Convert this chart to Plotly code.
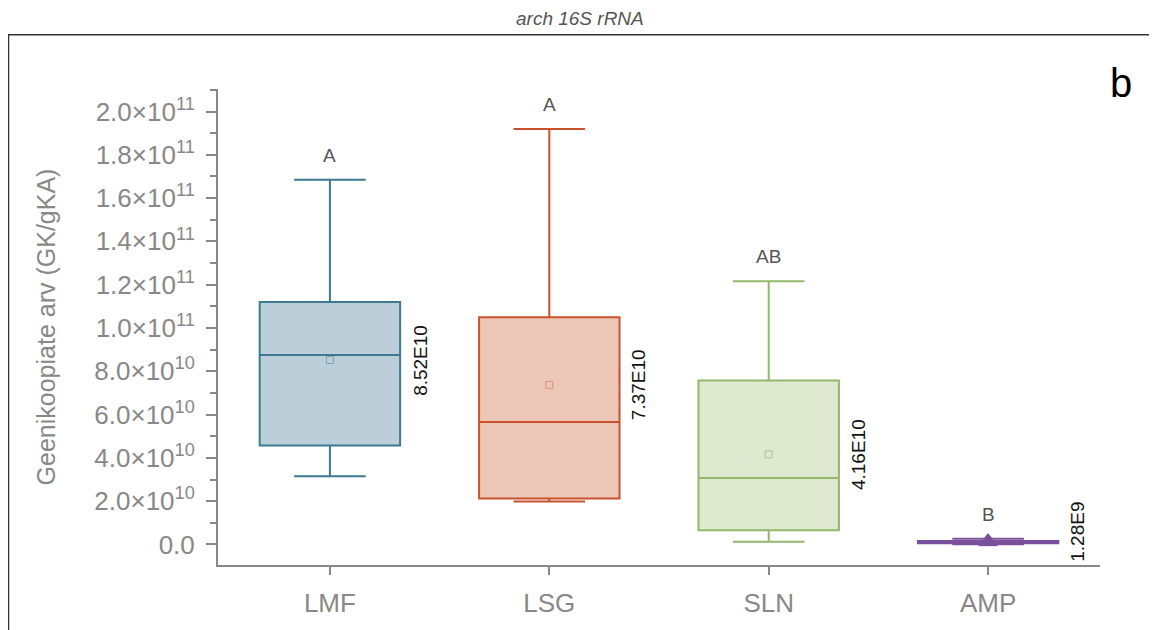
import plotly.graph_objects as go

categories = ["LMF", "LSG", "SLN", "AMP"]
lower_fence = [31.5e9, 19.8e9, 1.2e9, 0.1e9]
q1 = [45.7e9, 21.2e9, 6.6e9, 0.6e9]
median = [87.5e9, 56.6e9, 30.7e9, 1.0e9]
q3 = [112.0e9, 105.0e9, 75.7e9, 1.6e9]
upper_fence = [168.5e9, 191.9e9, 121.6e9, 2.6e9]
means = [85.2e9, 73.7e9, 41.6e9, 1.28e9]
mean_labels = ["8.52E10", "7.37E10", "4.16E10", "1.28E9"]
group_letters = ["A", "A", "AB", "B"]

line_colors = ["#3c7a93", "#c9512b", "#93b86b", "#7a4f9b"]
fill_colors = ["#bccfd8", "#ecc7b7", "#dfe9cf", "#b9a3cb"]
mean_colors = ["#7fa3b3", "#dc8f72", "#a9c589", "#7a4f9b"]
mean_symbols = ["square-open", "square-open", "square-open", "triangle-up"]
mean_sizes = [7, 7, 7, 16]

y_ticks = [i * 2e10 for i in range(11)]
y_ticktext = ["0.0"] + [
    f"{(v / 1e10):.1f}×10<sup>10</sup>" if v < 1e11 else f"{(v / 1e11):.1f}×10<sup>11</sup>"
    for v in y_ticks[1:]
]

FONT = "Liberation Sans"
fig = go.Figure()
for i, cat in enumerate(categories):
    fig.add_trace(go.Box(
        x=[cat], q1=[q1[i]], median=[median[i]], q3=[q3[i]],
        lowerfence=[lower_fence[i]], upperfence=[upper_fence[i]],
        width=0.64, whiskerwidth=0.51,
        line=dict(color=line_colors[i], width=2),
        fillcolor=fill_colors[i], boxpoints=False, hoverinfo="skip",
        showlegend=False,
    ))
    fig.add_trace(go.Scatter(
        x=[cat], y=[means[i]], mode="markers",
        marker=dict(symbol=mean_symbols[i], size=mean_sizes[i], color=mean_colors[i],
                    line=dict(width=1, color=mean_colors[i])),
        showlegend=False, hoverinfo="skip",
    ))
    fig.add_annotation(
        x=cat, y=upper_fence[i], text=group_letters[i], showarrow=False,
        yanchor="bottom", yshift=12, font=dict(size=19, color="#555555", family=FONT),
    )
    fig.add_annotation(
        x=i + 0.41, y=means[i], text=mean_labels[i], showarrow=False,
        textangle=-90, xanchor="center", yanchor="middle",
        yshift=10 if i == 3 else 0,
        font=dict(size=19, color="#111111", family=FONT),
    )

fig.add_annotation(
    xref="paper", yref="paper", x=0.41, y=1.0, yshift=71, yanchor="middle",
    text="<i>arch 16S rRNA</i>", showarrow=False,
    font=dict(size=19, color="#555555", family=FONT),
)
fig.add_annotation(
    xref="paper", yref="paper", x=1.0, y=1.0, xshift=8, yshift=6,
    text="b", showarrow=False, xanchor="left", yanchor="middle",
    font=dict(size=40, color="#000000", family=FONT),
)
fig.add_shape(
    type="rect", xref="paper", yref="paper",
    x0=-0.2375, x1=1.3, y0=-0.3, y1=1.114,
    line=dict(color="#333333", width=1.5), layer="below",
)

fig.update_layout(
    width=1149, height=622,
    margin=dict(l=210, r=57, t=81, b=57),
    paper_bgcolor="white", plot_bgcolor="white",
    font=dict(family=FONT, color="#888888"),
    xaxis=dict(
        type="category", categoryorder="array", categoryarray=categories,
        range=[-0.51, 3.51], showline=True, linecolor="#888888", linewidth=2,
        ticks="outside", ticklen=8, tickwidth=2, tickcolor="#888888",
        ticklabelstandoff=6,
        tickfont=dict(size=26, color="#888888"), showgrid=False, zeroline=False,
    ),
    yaxis=dict(
        range=[-0.95e10, 2.104e11], tickvals=y_ticks, ticktext=y_ticktext,
        showline=True, linecolor="#888888", linewidth=2,
        ticks="outside", ticklen=10, tickwidth=2, tickcolor="#888888",
        ticklabelstandoff=6,
        minor=dict(tickvals=[v + 1e10 for v in y_ticks], ticklen=6, tickwidth=2, tickcolor="#888888", ticks="outside"),
        tickfont=dict(size=26, color="#888888"), showgrid=False, zeroline=False,
        title=dict(text="Geenikoopiate arv (GK/gKA)", font=dict(size=25, color="#888888"), standoff=32),
    ),
)

fig.write_html("out.html")
